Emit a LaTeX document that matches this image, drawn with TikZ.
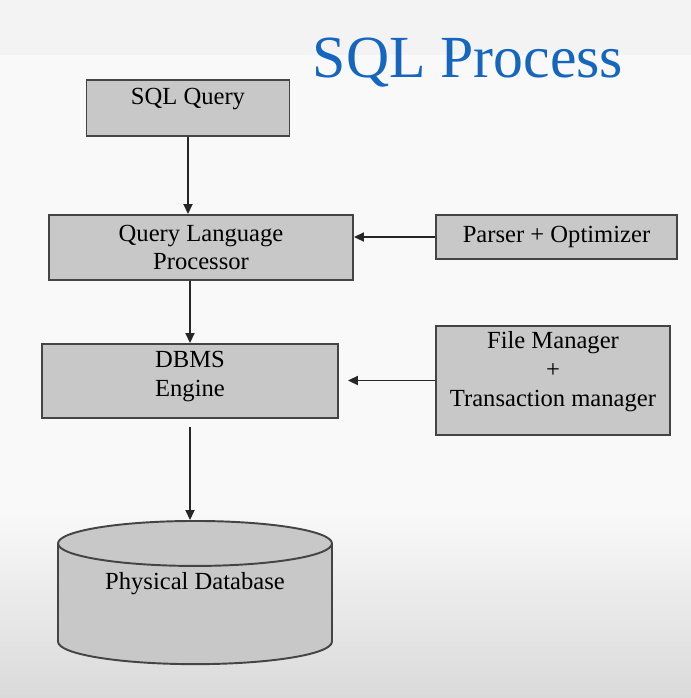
\documentclass[tikz,border=0pt]{standalone}
\usepackage{fontspec}
\setmainfont{Liberation Serif}
\usepackage{tikz}
\usetikzlibrary{arrows.meta,positioning,shapes.geometric}
\definecolor{cbox}{RGB}{200,200,200}
\definecolor{cedge}{RGB}{68,68,68}
\definecolor{ctitle}{RGB}{22,102,190}
\definecolor{cbg}{RGB}{249,249,249}
\definecolor{cbgtop}{RGB}{243,243,243}
\definecolor{cbgbot}{RGB}{218,218,218}
\tikzset{
  box/.style={rectangle,fill=cbox,draw=cedge,line width=1.1pt,align=center,
    inner sep=3pt,font=\fontsize{14}{16.4}\selectfont},
  dbshape/.style={cylinder,shape border rotate=90,aspect=0.235,fill=cbox,
    draw=cedge,line width=1.1pt,font=\fontsize{14}{16.4}\selectfont},
  arr/.style={-{Triangle[length=2mm,width=1.8mm]},line width=1pt,draw=black!85}
}
\begin{document}
\begin{tikzpicture}[x=0.02cm,y=-0.02cm]
  % background
  \useasboundingbox (0,0) rectangle (691,698);
  \fill[cbg] (0,0) rectangle (691,698);
  \fill[cbgtop] (0,0) rectangle (691,55);
  \shade[top color=cbg,bottom color=cbgbot] (0,510) rectangle (691,698);
  \node[font=\fontsize{34}{38}\selectfont,text=ctitle] (title) at (468,63) {SQL Process};
  % boxes
  \node[box,minimum width=4.06cm,minimum height=1.12cm,text depth=0.47cm] (sql) at (188,108) {SQL Query};
  \node[box,minimum width=6.08cm,minimum height=1.3cm] (qlp) at (201,247.5) {Query Language\\Processor};
  \node[box,minimum width=4.82cm,minimum height=0.88cm] (parser) at (556.5,237) {Parser + Optimizer};
  \node[box,minimum width=5.92cm,minimum height=1.48cm,text depth=0.27cm] (dbms) at (190,381) {DBMS\\Engine};
  \node[box,minimum width=4.68cm,minimum height=2.18cm,text depth=0.45cm] (fm) at (553,380.5) {File Manager\\+\\Transaction manager};
  \node[dbshape,minimum width=5.48cm,minimum height=2.86cm,text depth=1.05cm,anchor=north] (db) at (195,520) {Physical Database};
  % connectors
  \draw[arr] (sql.south) -- (sql.south |- qlp.north);
  \draw[arr] (qlp.south -| dbms.north) -- (dbms.north);
  \draw[arr,shorten <=0.16cm] (dbms.south) -- (dbms.south |- db.north);
  \draw[arr] (parser.west) -- (parser.west -| qlp.east);
  \draw[arr,shorten >=0.18cm] (fm.west) -- (fm.west -| dbms.east);
\end{tikzpicture}
\end{document}
